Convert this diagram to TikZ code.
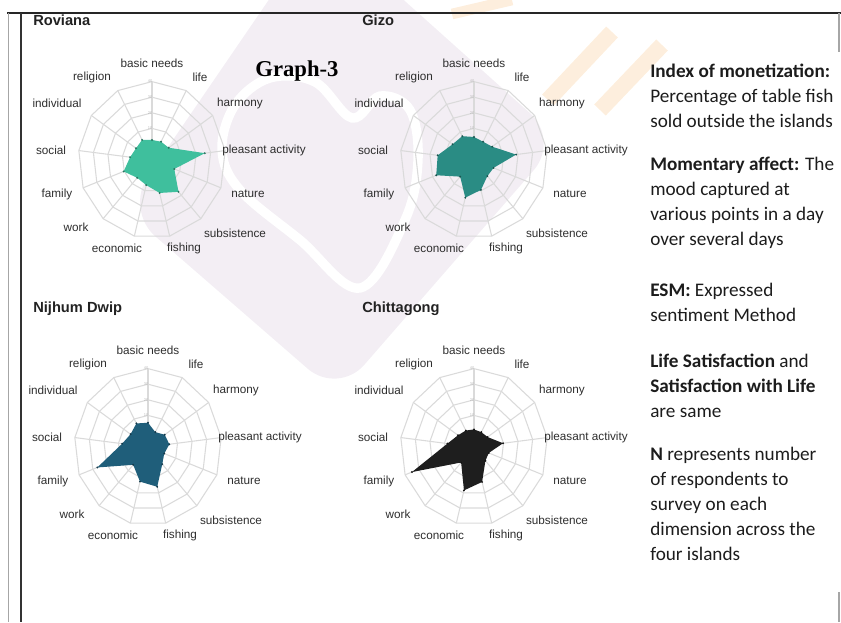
\documentclass[tikz,border=0pt]{standalone}
\usepackage{fontspec}
\setmainfont{Liberation Sans}
\newfontfamily\notefont{Carlito}
\newfontfamily\headfont{Liberation Serif}

\definecolor{gridgray}{HTML}{DADADA}
\definecolor{labelgray}{HTML}{2E2E2E}
\definecolor{titlegray}{HTML}{222222}
\definecolor{notegray}{HTML}{1C1C1C}
\definecolor{rovianafill}{HTML}{3FBF9D}
\definecolor{gizofill}{HTML}{2A8C84}
\definecolor{nijhumfill}{HTML}{1F5E7A}
\definecolor{chittafill}{HTML}{1E1E1E}
\definecolor{markwash}{HTML}{F3EEF4}
\definecolor{orangewash}{HTML}{FDEEDD}

\tikzset{
  gridline/.style={draw=gridgray, line width=0.8pt},
  axislabel/.style={font=\fontsize{8.8}{10}\selectfont, text=labelgray, inner sep=0pt},
  ringlabel/.style={font=\fontsize{3}{3}\selectfont, text=gridgray!85!black, inner sep=0pt},
  charttitle/.style={font=\fontsize{11}{13}\selectfont\bfseries, text=titlegray, anchor=base west, inner sep=0pt},
  graphtitle/.style={font=\headfont\fontsize{17}{20}\selectfont\bfseries, anchor=base, inner sep=0pt},
  noteline/.style={font=\notefont\fontsize{14.4}{17}\selectfont, text=notegray, anchor=base west, inner sep=0pt},
  framerule/.style={line width=0.9pt}
}

% #1 name, #2 centre, #3 fill colour, #4 values (basic needs first, clockwise)
\newcommand{\radarplot}[4]{%
  \begin{scope}[shift={(#2)}]
    \begin{scope}[xscale=0.94]
      \foreach \v in {10,20,30,40}
        \draw[gridline] (-90:{16+1.56*\v}) \foreach \k in {1,...,12} { -- ({-90+\k*360/13}:{16+1.56*\v}) } -- cycle;
      \foreach \k in {0,...,12}
        \draw[gridline] (0,0) -- ({-90+\k*360/13}:78.4);
      \foreach \val [count=\k from 0] in {#4}
        \coordinate (#1-p\k) at ({-90+\k*360/13}:{16+1.56*\val});
      \fill[#3] (#1-p0) \foreach \k in {1,...,12} { -- (#1-p\k) } -- cycle;
      \foreach \k in {0,...,12}
        \fill[#3!60!black] (#1-p\k) circle (1.1);
    \end{scope}
    \foreach \v in {10,20,30,40}
      \node[ringlabel] (#1-r\v) at (-2,{-16-1.56*\v}) {\v};
    \foreach \lab/\dx/\dy [count=\k] in {basic needs/0/-97, life/48/-83, harmony/88/-57,
        pleasant activity/112/-10, nature/96/34, subsistence/83/73, fishing/32/88,
        economic/-35/88, work/-76/67, family/-95/34, social/-101/-10,
        individual/-95/-57, religion/-60/-83}
      \node[axislabel] (#1-l\k) at (\dx,\dy) {\lab};
  \end{scope}
}

\begin{document}
\begin{tikzpicture}[x=0.75pt, y=-0.75pt]
\useasboundingbox (0,0) rectangle (841,622);

% watermark
\fill[markwash, rounded corners=30pt] (320,-75) -- (560,140) -- (338,395) -- (125,210) -- cycle;
\draw[white, line width=7pt] plot[smooth cycle, tension=0.6] coordinates {(360,288) (300,240) (240,190) (222,150) (235,105) (270,78) (315,82) (352,118) (380,96) (410,110) (418,160) (405,220)};
\draw[orangewash, line width=12pt] (548,100) -- (612,32);
\draw[orangewash, line width=12pt] (600,110) -- (662,45);
\draw[orangewash, line width=8pt] (452,14) -- (512,0);

% frame
\draw[framerule, black!85] (7,13) -- (841,13);
\draw[framerule, gray!70] (8.5,13) -- (8.5,622);
\draw[framerule, black!80] (21,13) -- (21,622);
\draw[framerule, gray!70] (839,13) -- (839,52);
\draw[framerule, gray!70] (839,592) -- (839,622);

% titles
\node[charttitle] (rovianatitle) at (33,25) {Roviana};
\node[charttitle] (gizotitle) at (362,25) {Gizo};
\node[charttitle] (nijhumtitle) at (33,312) {Nijhum Dwip};
\node[charttitle] (chittatitle) at (362,312) {Chittagong};
\node[graphtitle] (graphtitle) at (297,76) {Graph-3};

% charts
\radarplot{rov}{152,160}{rovianafill}{2.6,3,3.6,26,6,17,11.5,6.3,5,10.4,4.8,3,4.3}
\radarplot{giz}{474,160}{gizofill}{4.5,3,4.8,18.7,4,3.5,9.5,14.6,4,17.3,14.7,7.5,7}
\radarplot{nij}{148,447}{nijhumfill}{5.3,0.5,3.6,4.4,1.6,4.4,16,12.6,5,26.7,7.5,4.2,6.8}
\radarplot{chi}{474,447}{chittafill}{1,0.5,1,9.7,0.5,1.5,12.8,18.4,3,35,8,3,1.7}

% notes
\foreach \y/\txt [count=\n] in {
  77/{\textbf{Index of monetization:}},
  102/{Percentage of table fish},
  127/{sold outside the islands},
  170/{\textbf{Momentary affect:} The},
  195/{mood captured at},
  220/{various points in a day},
  245/{over several days},
  296/{\textbf{ESM:} Expressed},
  321/{sentiment Method},
  367/{\textbf{Life Satisfaction} and},
  392/{\textbf{Satisfaction with Life}},
  417/{are same},
  460/{\textbf{N} represents number},
  485/{of respondents to},
  510/{survey on each},
  535/{dimension across the},
  560/{four islands}}
  \node[noteline] (note\n) at (650,\y) {\txt};

\end{tikzpicture}
\end{document}
